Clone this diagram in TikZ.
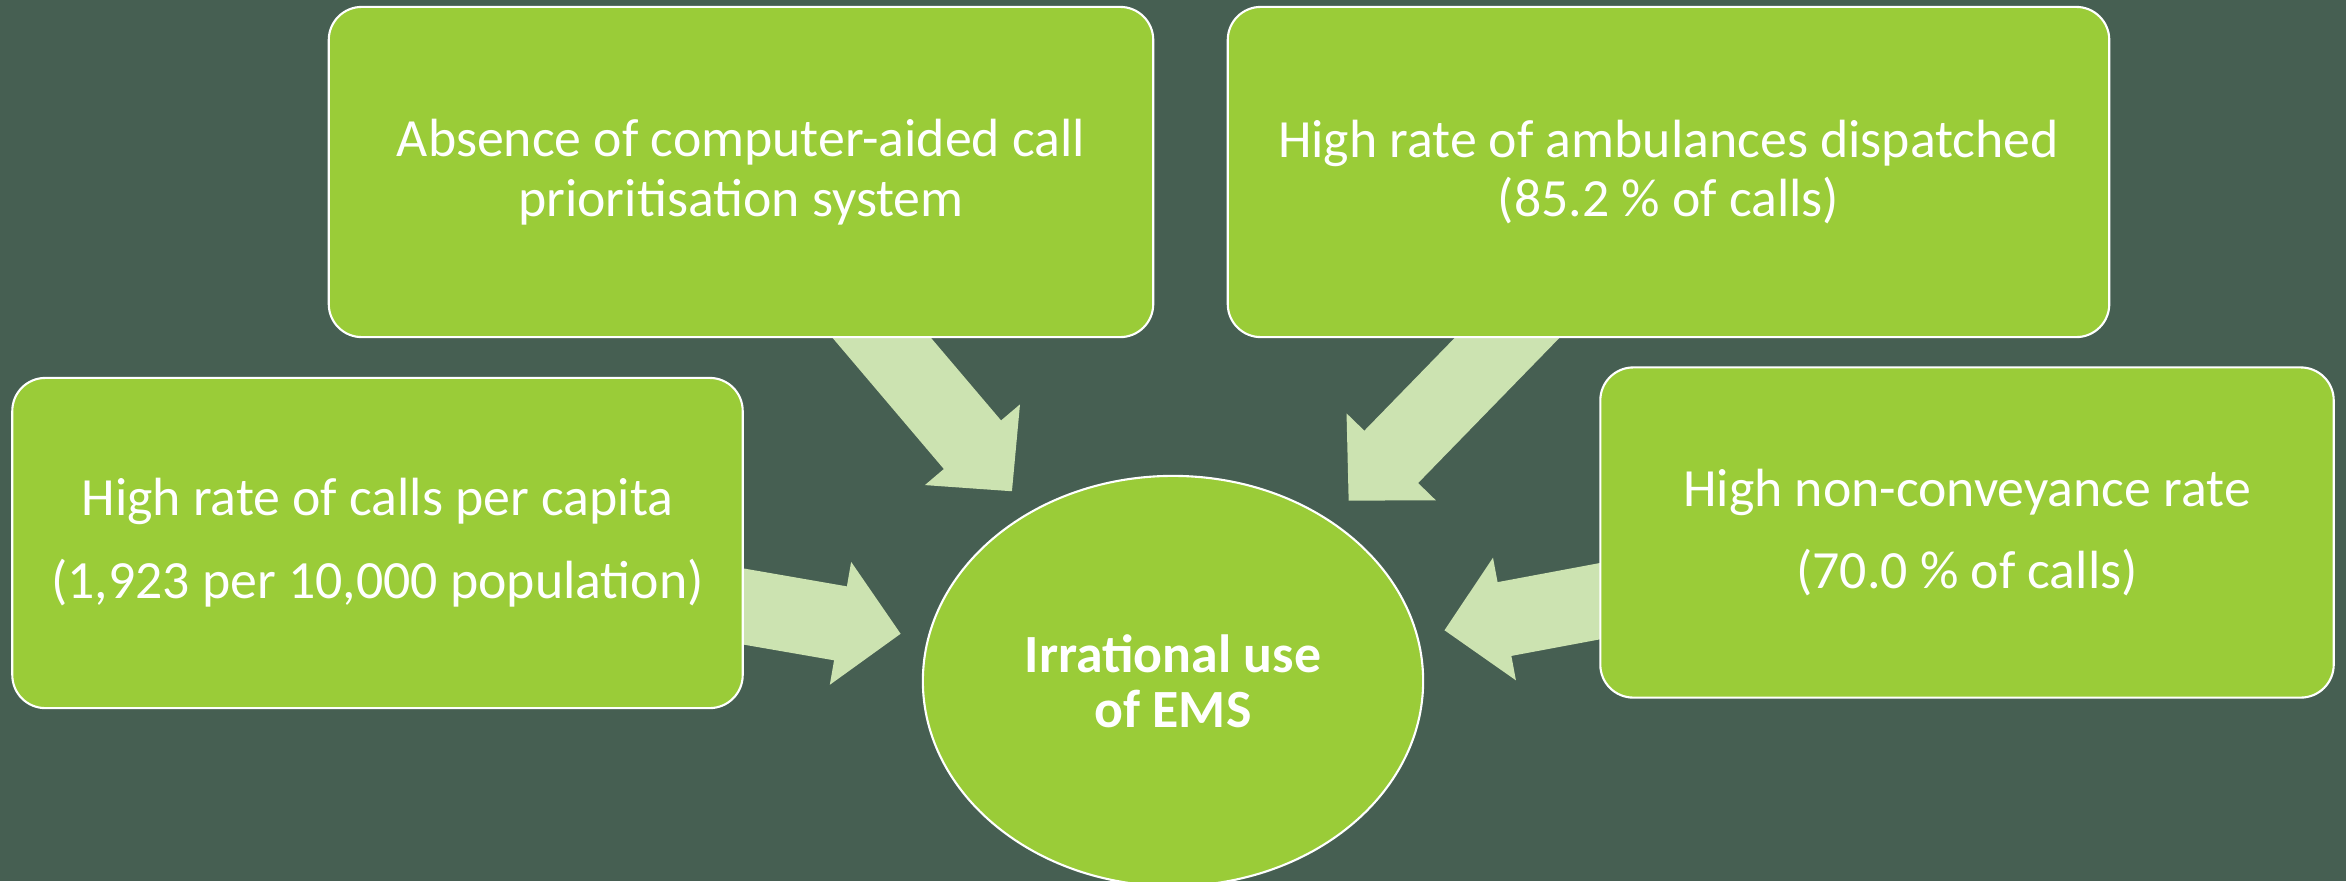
\documentclass[tikz,border=0pt]{standalone}
\usepackage{fontspec}
\setmainfont{Carlito}
\usetikzlibrary{arrows.meta,shapes.geometric}

\definecolor{slate}{RGB}{70,95,82}
\definecolor{leaf}{RGB}{154,204,56}
\definecolor{pale}{RGB}{204,227,177}

\pgfdeclarelayer{background}
\pgfdeclarelayer{links}
\pgfsetlayers{background,links,main}

\begin{document}
\begin{tikzpicture}[
    x=0.01cm, y=-0.01cm,
    cause/.style={draw=white, line width=0.6pt, fill=leaf, rounded corners=0.33cm,
                  text=white, align=center, font=\fontsize{15.3}{17}\selectfont,
                  inner sep=0pt, minimum height=3.3cm},
    effect/.style={draw=white, line width=0.6pt, fill=leaf, ellipse, inner sep=0pt,
                   minimum width=5cm, minimum height=4.1cm, text=white, align=center,
                   font=\fontsize{15.3}{15.7}\selectfont\bfseries},
    link/.style={pale, line width=0.75cm, shorten >=0.27cm,
                 -{Triangle[length=0.61cm, width=1.24cm, line width=1pt]}}
  ]
    \useasboundingbox (0,0) rectangle (2346,881);

    \node[cause, minimum width=8.24cm] (absence)  at (741,172)    {Absence of computer-aided call\\prioritisation system};
    \node[cause, minimum width=8.81cm] (dispatch) at (1668.5,172) {High rate of ambulances dispatched\\(85.2 \% of calls)};
    \node[cause, minimum width=7.30cm] (calls)    at (377.5,543)  {High rate of calls per capita\\[0.23cm](1,923 per 10,000 population)};
    \node[cause, minimum width=7.33cm] (noconvey) at (1967,532.5) {High non-conveyance rate\\[0.23cm](70.0 \% of calls)};
    \node[effect] (ems) at (1173,681) {Irrational use\\of EMS};

    % block arrows sit under the boxes
    \begin{pgfonlayer}{links}
      \draw[link] (absence.center)  -- (ems);
      \draw[link] (dispatch.center) -- (ems);
      \draw[link] (calls.center)    -- (ems);
      \draw[link] (noconvey.center) -- (ems);
    \end{pgfonlayer}

    \begin{pgfonlayer}{background}
      \fill[slate] (0,0) rectangle (2346,881);
    \end{pgfonlayer}
  \end{tikzpicture}
\end{document}
